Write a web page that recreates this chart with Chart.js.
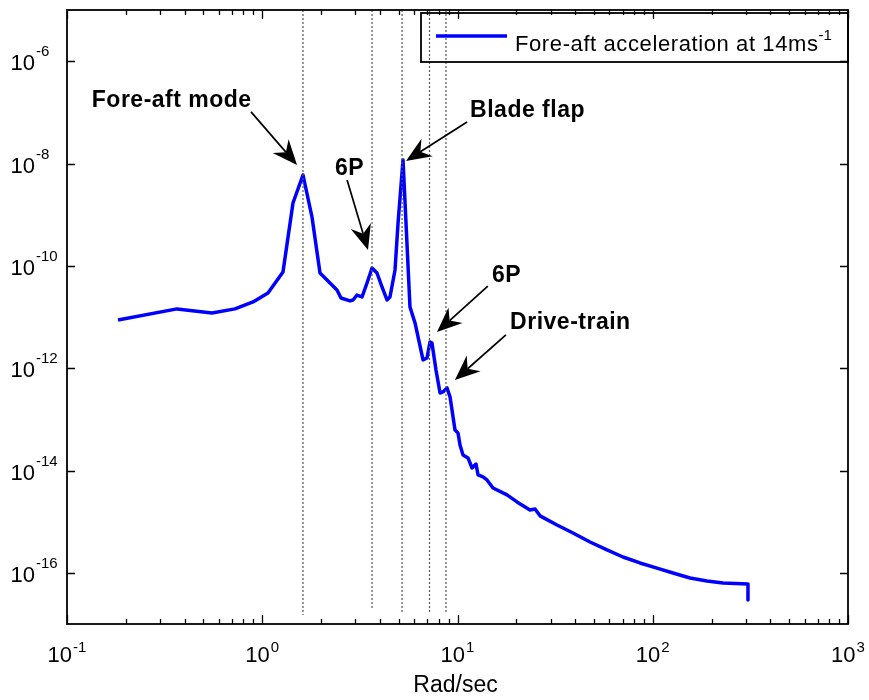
<!DOCTYPE html>
<html><head><meta charset="utf-8">
<script src="https://cdn.jsdelivr.net/npm/chart.js@4/dist/chart.umd.min.js"></script>
<style>html,body{margin:0;padding:0;background:#fff;}#wrap{width:869px;height:700px;}</style>
</head><body><div id="wrap"><canvas id="c" width="869" height="700"></canvas></div>
<script>
// ---- data ----
const freq = [0.1825, 0.366, 0.553, 0.725, 0.897, 1.07, 1.277, 1.437, 1.617, 1.798, 1.976, 2.223, 2.414, 2.531, 2.814, 2.916, 3.057, 3.243, 3.44, 3.65, 3.87, 4.105, 4.355, 4.51, 4.786, 4.96, 5.26, 5.71, 6.06, 6.66, 6.98, 7.23, 7.40, 7.76, 8.14, 8.43, 8.84, 9.16, 9.71, 10.06, 10.30, 10.67, 11.32, 11.87, 12.44, 12.74, 13.51, 14.16, 15.20, 17.93, 20.17, 23.51, 24.95, 26.46, 32.33, 39.05, 47.71, 58.3, 70.4, 86.0, 105.1, 127.0, 155.2, 189.6, 229.0, 307.4, 307.4];
const accel = [8.75e-12, 1.44e-11, 1.20e-11, 1.44e-11, 1.97e-11, 2.95e-11, 7.58e-11, 1.69e-9, 5.96e-9, 9.0e-10, 7.24e-11, 4.62e-11, 3.37e-11, 2.35e-11, 2.06e-11, 2.15e-11, 2.69e-11, 2.46e-11, 4.62e-11, 9.08e-11, 7.24e-11, 3.86e-11, 2.15e-11, 2.46e-11, 8.30e-11, 6.87e-10, 1.17e-8, 1.57e-11, 7.64e-12, 1.45e-12, 1.58e-12, 3.25e-12, 3.10e-12, 9.2e-13, 3.27e-13, 3.43e-13, 4.10e-13, 2.74e-13, 6.20e-14, 5.41e-14, 3.15e-14, 2.01e-14, 1.76e-14, 1.12e-14, 1.34e-14, 8.18e-15, 7.48e-15, 6.54e-15, 4.56e-15, 3.33e-15, 2.43e-15, 1.69e-15, 1.77e-15, 1.30e-15, 8.61e-16, 6.01e-16, 4.01e-16, 2.80e-16, 2.04e-16, 1.56e-16, 1.24e-16, 9.93e-17, 7.94e-17, 6.94e-17, 6.34e-17, 6.05e-17, 2.95e-17];
const markerFreqs = [1.617, 3.65, 5.20, 7.19, 8.73];
const markerBottoms = [1.50e-17, 1.88e-17, 1.64e-17, 1.72e-17, 1.72e-17];
const markerTop = 1e-5;
const xTickExps = [-1, 0, 1, 2, 3];
const yTickExps = [-6, -8, -10, -12, -14, -16];
const seriesLabel = "Fore-aft acceleration at 14ms";
const seriesLabelExp = "-1";
const xTitle = "Rad/sec";
const annLabels = ["Fore-aft mode", "6P", "Blade flap", "6P", "Drive-train"];
const annText = [[0.134, 1.27e-7], [2.36, 5.96e-9], [11.6, 8.11e-8], [15.0, 4.83e-11], [18.6, 5.83e-12]];
const annTail = [[0.876, 1.02e-7], [2.72, 4.76e-9], [11.19, 6.47e-8], [14.3, 4.03e-11], [17.7, 4.46e-12]];
const annTip  = [[1.507, 9.35e-9], [3.48, 2.04e-10], [5.45, 1.12e-8], [7.85, 5.09e-12], [9.70, 5.87e-13]];

const FONT = '"Liberation Sans", Arial, Helvetica, sans-serif';

const datasets = [];
markerFreqs.forEach((f, i) => {
  datasets.push({
    data: [{x: f, y: markerTop}, {x: f, y: markerBottoms[i]}],
    borderColor: '#555', borderWidth: 1.2, borderDash: [2, 2],
    pointRadius: 0, fill: false, tension: 0
  });
});
datasets.push({
  label: seriesLabel,
  data: freq.map((f, i) => ({x: f, y: accel[i]})),
  borderColor: '#0000ff', borderWidth: 3.5, pointRadius: 0,
  fill: false, tension: 0, borderJoinStyle: 'round'
});

function powLabelWidth(ctx, exp) {
  ctx.font = '22px ' + FONT; const w1 = ctx.measureText('10').width;
  ctx.font = '15px ' + FONT; const w2 = ctx.measureText(String(exp)).width;
  return [w1, w2];
}

function drawArrow(ctx, x0, y0, x1, y1) {
  const dx = x1 - x0, dy = y1 - y0, L = Math.hypot(dx, dy);
  const ux = dx / L, uy = dy / L, px = -uy, py = ux;
  const hl = 25, hw = 10.5, notch = 17;
  ctx.beginPath();
  ctx.moveTo(x0, y0);
  ctx.lineTo(x1 - ux * notch, y1 - uy * notch);
  ctx.lineWidth = 1.7; ctx.strokeStyle = '#000'; ctx.stroke();
  ctx.beginPath();
  ctx.moveTo(x1, y1);
  ctx.lineTo(x1 - ux * hl + px * hw, y1 - uy * hl + py * hw);
  ctx.lineTo(x1 - ux * notch, y1 - uy * notch);
  ctx.lineTo(x1 - ux * hl - px * hw, y1 - uy * hl - py * hw);
  ctx.closePath();
  ctx.fillStyle = '#000'; ctx.fill();
}

const framePlugin = {
  id: 'frame',
  afterDatasetsDraw(chart) {
    const ctx = chart.ctx, a = chart.chartArea;
    const xs = chart.scales.x, ys = chart.scales.y;
    ctx.save();
    ctx.strokeStyle = '#000'; ctx.lineWidth = 1.8;
    ctx.strokeRect(a.left, a.top, a.right - a.left, a.bottom - a.top);
    ctx.lineWidth = 1.3;
    for (let d = -1; d <= 3; d++) {
      for (let m = 1; m <= 9; m++) {
        if (d === 3 && m > 1) break;
        const v = m * Math.pow(10, d);
        const px = Math.round(xs.getPixelForValue(v)) + 0.5;
        const len = m === 1 ? 9 : 5;
        ctx.beginPath();
        ctx.moveTo(px, a.bottom); ctx.lineTo(px, a.bottom - len);
        ctx.moveTo(px, a.top); ctx.lineTo(px, a.top + len);
        ctx.stroke();
      }
    }
    yTickExps.forEach(e => {
      const py = Math.round(ys.getPixelForValue(Math.pow(10, e))) + 0.5;
      ctx.beginPath();
      ctx.moveTo(a.left, py); ctx.lineTo(a.left + 8, py);
      ctx.moveTo(a.right, py); ctx.lineTo(a.right - 8, py);
      ctx.stroke();
    });
    ctx.fillStyle = '#000'; ctx.textBaseline = 'alphabetic';
    xTickExps.forEach(e => {
      const px = xs.getPixelForValue(Math.pow(10, e));
      const [w1, w2] = powLabelWidth(ctx, e);
      const start = px - (w1 + w2 + 1) / 2;
      ctx.textAlign = 'left';
      ctx.font = '22px ' + FONT; ctx.fillText('10', start, a.bottom + 38);
      ctx.font = '15px ' + FONT; ctx.fillText(String(e), start + w1 + 1, a.bottom + 28);
    });
    yTickExps.forEach(e => {
      const py = ys.getPixelForValue(Math.pow(10, e));
      ctx.font = '22px ' + FONT; ctx.textAlign = 'right';
      ctx.fillText('10', a.left - 32, py + 9);
      ctx.font = '15px ' + FONT; ctx.textAlign = 'left';
      ctx.fillText(String(e), a.left - 31, py - 5);
    });
    ctx.font = '23px ' + FONT; ctx.textAlign = 'center';
    ctx.fillText(xTitle, (a.left + a.right) / 2 - 2, a.bottom + 68);
    ctx.font = 'bold 23px ' + FONT; ctx.textAlign = 'left';
    try { ctx.letterSpacing = '0.5px'; } catch (err) {}
    annLabels.forEach((t, i) => {
      ctx.fillStyle = '#000';
      ctx.fillText(t, xs.getPixelForValue(annText[i][0]), ys.getPixelForValue(annText[i][1]));
      drawArrow(ctx, xs.getPixelForValue(annTail[i][0]), ys.getPixelForValue(annTail[i][1]),
                xs.getPixelForValue(annTip[i][0]), ys.getPixelForValue(annTip[i][1]));
    });
    const lx = 421, ly = a.top + 3, lr = a.right, lb = 62;
    ctx.strokeStyle = '#000'; ctx.lineWidth = 1.8;
    ctx.strokeRect(lx, ly, lr - lx, lb - ly);
    ctx.beginPath(); ctx.moveTo(436, 36); ctx.lineTo(507, 36);
    ctx.strokeStyle = '#0000ff'; ctx.lineWidth = 3.5; ctx.stroke();
    ctx.fillStyle = '#000';
    ctx.font = '22px ' + FONT; ctx.textAlign = 'left';
    try { ctx.letterSpacing = '0.6px'; } catch (err) {}
    ctx.fillText(seriesLabel, 515, 51);
    const tw = ctx.measureText(seriesLabel).width;
    try { ctx.letterSpacing = '0px'; } catch (err) {}
    ctx.font = '15px ' + FONT;
    ctx.fillText(seriesLabelExp, 515 + tw, 40);
    ctx.restore();
  }
};

new Chart(document.getElementById('c'), {
  type: 'line',
  data: { datasets },
  options: {
    responsive: false, animation: false, devicePixelRatio: 1,
    layout: { padding: { left: 67, right: 21, top: 10, bottom: 76 } },
    plugins: { legend: { display: false }, tooltip: { enabled: false } },
    scales: {
      x: { type: 'logarithmic', min: 0.1, max: 1000, display: false },
      y: { type: 'logarithmic', min: 1e-17, max: 1e-5, display: false }
    }
  },
  plugins: [framePlugin]
});
</script></body></html>
